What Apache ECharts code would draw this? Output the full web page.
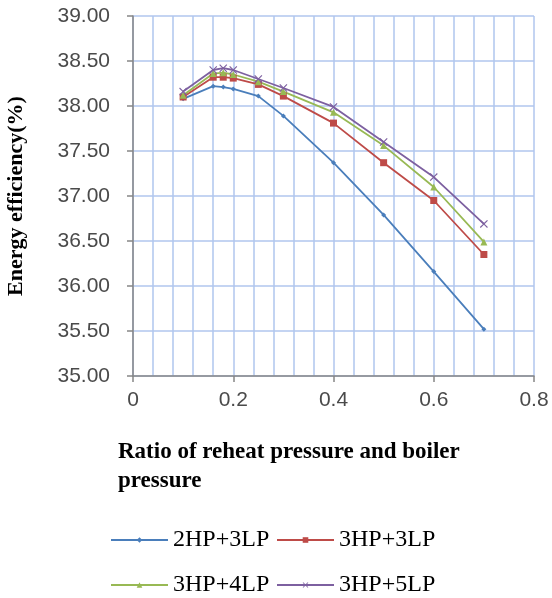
<!DOCTYPE html>
<html><head><meta charset="utf-8">
<script src="https://cdn.jsdelivr.net/npm/echarts@6/dist/echarts.min.js"></script>
<style>html,body{margin:0;padding:0;background:#fff}#c{width:552px;height:598px}</style>
</head><body><div id="c"></div>
<script>
const ratios = [0.1, 0.16, 0.18, 0.2, 0.25, 0.3, 0.4, 0.5, 0.6, 0.7];
const s2HP3LP = [38.08, 38.22, 38.21, 38.19, 38.11, 37.89, 37.37, 36.79, 36.16, 35.52];
const s3HP3LP = [38.10, 38.32, 38.32, 38.31, 38.24, 38.11, 37.81, 37.37, 36.95, 36.35];
const s3HP4LP = [38.12, 38.36, 38.37, 38.35, 38.27, 38.16, 37.93, 37.56, 37.10, 36.49];
const s3HP5LP = [38.16, 38.40, 38.42, 38.40, 38.30, 38.20, 37.99, 37.60, 37.21, 36.69];
const seriesNames = ['2HP+3LP', '3HP+3LP', '3HP+4LP', '3HP+5LP'];
const xTitle = 'Ratio of reheat pressure and boiler\npressure';
const yTitle = 'Energy efficiency(%)';

const colors = ['#4a7ebb', '#be4b48', '#98b954', '#7d60a0'];
const xPath = 'path://M0,1L1,0L5,4L9,0L10,1L6,5L10,9L9,10L5,6L1,10L0,9L4,5Z';
const symbols = ['diamond', 'rect', 'triangle', xPath];
const symSizes = [5, 7, 7, 8];
const allData = [s2HP3LP, s3HP3LP, s3HP4LP, s3HP5LP];

const chart = echarts.init(document.getElementById('c'));
const gridColor = '#b0c6ee';
const labelFont = {fontFamily: 'Liberation Sans', fontSize: 21, color: '#4a4a4a'};
const legendPos = [[110, 528], [276, 528], [110, 573], [276, 573]];

chart.setOption({
  animation: false,
  color: colors,
  grid: {left: 133, top: 16, right: 18, bottom: 222, containLabel: false, outerBoundsMode: 'none'},
  xAxis: {
    type: 'value', min: 0, max: 0.8, interval: 0.2,
    axisLine: {show: true, onZero: false, lineStyle: {color: '#868686', width: 1.5}},
    axisTick: {show: true, length: 6, lineStyle: {color: '#868686', width: 1.5}},
    axisLabel: Object.assign({margin: 14, formatter: v => (v === 0 ? '0' : String(+v.toFixed(1)))}, labelFont),
    splitLine: {show: true, lineStyle: {color: gridColor, width: 1.5}},
    minorTick: {show: false, splitNumber: 5},
    minorSplitLine: {show: true, lineStyle: {color: gridColor, width: 1.5}}
  },
  yAxis: {
    type: 'value', min: 35, max: 39, interval: 0.5,
    name: yTitle, nameLocation: 'middle', nameRotate: 90, nameGap: 106,
    nameTextStyle: {fontFamily: 'Liberation Serif', fontWeight: 'bold', fontSize: 22, color: '#000'},
    axisLine: {show: true, onZero: false, lineStyle: {color: '#868686', width: 1.5}},
    axisTick: {show: true, length: 6, lineStyle: {color: '#868686', width: 1.5}},
    axisLabel: Object.assign({margin: 23, formatter: v => v.toFixed(2)}, labelFont),
    splitLine: {show: true, lineStyle: {color: gridColor, width: 1.5}}
  },
  legend: seriesNames.map((n, i) => ({
    data: [n], left: legendPos[i][0], top: legendPos[i][1], padding: 0,
    itemWidth: 57, itemHeight: 7, itemGap: 0,
    textStyle: {fontFamily: 'Liberation Serif', fontSize: 24, color: '#000'}
  })),
  graphic: [{
    type: 'text', left: 118, top: 438,
    style: {text: xTitle, fontFamily: 'Liberation Serif', fontWeight: 'bold', fontSize: 23, lineHeight: 29, fill: '#000'}
  }],
  series: seriesNames.map((n, i) => ({
    name: n, type: 'line',
    data: ratios.map((x, j) => [x, allData[i][j]]),
    symbol: symbols[i], symbolSize: symSizes[i], showSymbol: true,
    lineStyle: {width: 1.8, color: colors[i]},
    itemStyle: {color: colors[i]}
  }))
});
</script></body></html>
